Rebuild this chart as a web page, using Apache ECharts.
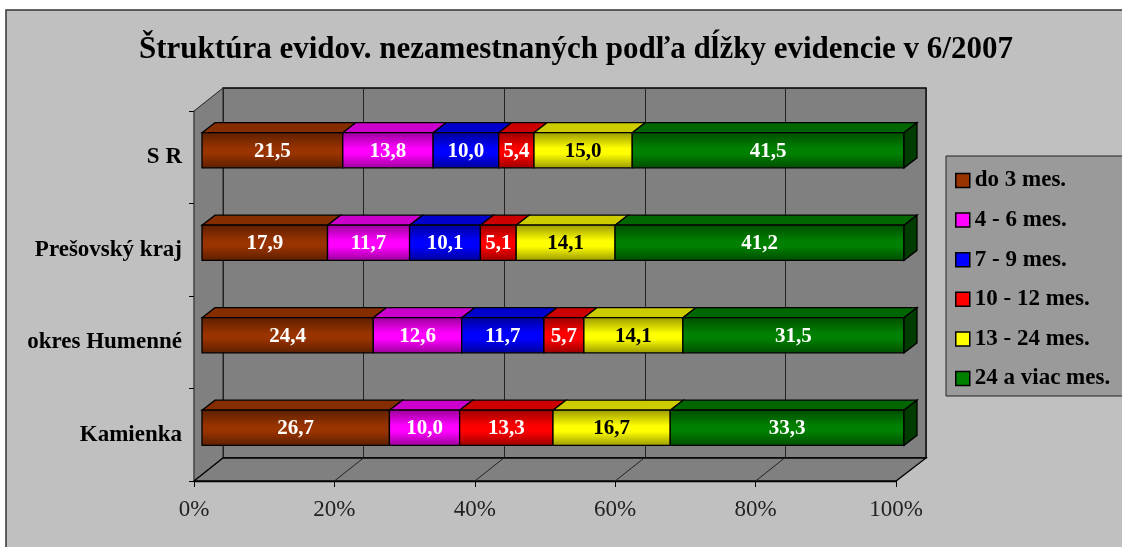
<!DOCTYPE html>
<html>
<head>
<meta charset="utf-8">
<script src="https://cdn.jsdelivr.net/npm/echarts@6/dist/echarts.min.js"></script>
<style>
  html, body { margin: 0; padding: 0; background: #fff; }
  #chart { width: 1122px; height: 547px; }
</style>
</head>
<body>
<div id="chart"></div>
<script>
// data
var categories = ["S R", "Prešovský kraj", "okres Humenné", "Kamienka"];
var seriesNames = ["do 3 mes.", "4 - 6 mes.", "7 - 9 mes.", "10 - 12 mes.", "13 - 24 mes.", "24 a viac mes."];
var do3 = [21.5, 17.9, 24.4, 26.7];
var m4to6 = [13.8, 11.7, 12.6, 10.0];
var m7to9 = [10.0, 10.1, 11.7, 0];
var m10to12 = [5.4, 5.1, 5.7, 13.3];
var m13to24 = [15.0, 14.1, 14.1, 16.7];
var m24plus = [41.5, 41.2, 31.5, 33.3];
var tickValues = [0, 20, 40, 60, 80, 100];

var seriesValues = [do3, m4to6, m7to9, m10to12, m13to24, m24plus];

// colours: front middle, front edge, top face, side face, label
var palette = [
  { base: "#993300", edge: "#5c1f00", top: "#862d00", side: "#5c1f00", text: "#fff" },
  { base: "#ff00ff", edge: "#990099", top: "#cc00cc", side: "#990099", text: "#fff" },
  { base: "#0000ff", edge: "#000099", top: "#0000cc", side: "#000099", text: "#fff" },
  { base: "#ff0000", edge: "#990000", top: "#cc0000", side: "#990000", text: "#fff" },
  { base: "#ffff00", edge: "#999900", top: "#cccc00", side: "#999900", text: "#000" },
  { base: "#008000", edge: "#004d00", top: "#006600", side: "#003c00", text: "#fff" }
];

var DX = 13, DY = 10; // bar depth
var serif = "'Liberation Serif', 'Times New Roman', serif";

function renderBar(params, api) {
  var v = api.value(3);
  if (!v) return;
  var c = palette[seriesNames.indexOf(params.seriesName)];
  var p0 = api.coord([api.value(0), api.value(2)]);
  var p1 = api.coord([api.value(1), api.value(2)]);
  var h = api.size([0, 1])[1] * 0.38;
  var x0 = p0[0], x1 = p1[0], yt = p0[1] - h / 2, yb = p0[1] + h / 2;
  var stroke = { stroke: "#000", lineWidth: 1.3 };
  var children = [
    {
      type: "polygon",
      shape: { points: [[x0, yt], [x0 + DX, yt - DY], [x1 + DX, yt - DY], [x1, yt]] },
      style: Object.assign({ fill: c.top }, stroke)
    },
    {
      type: "rect",
      shape: { x: x0, y: yt, width: x1 - x0, height: h },
      style: Object.assign({
        fill: new echarts.graphic.LinearGradient(0, 0, 0, 1, [
          { offset: 0, color: c.edge },
          { offset: 0.45, color: c.base },
          { offset: 0.6, color: c.base },
          { offset: 1, color: c.edge }
        ])
      }, stroke)
    },
    {
      type: "text",
      style: {
        text: v.toFixed(1).replace(".", ","),
        x: (x0 + x1) / 2, y: (yt + yb) / 2 + 1,
        align: "center", verticalAlign: "middle",
        fill: c.text, font: "bold 21px " + serif
      }
    }
  ];
  if (api.value(1) >= 99.9) {
    children.push({
      type: "polygon",
      shape: { points: [[x1, yt], [x1 + DX, yt - DY], [x1 + DX, yb - DY], [x1, yb]] },
      style: Object.assign({ fill: c.side }, stroke)
    });
  }
  return { type: "group", children: children };
}

// floor diagonal lines
function renderFloorLine(params, api) {
  var p = api.coord([api.value(0), categories.length - 1]);
  var y = p[1] + api.size([0, 1])[1] / 2;
  return {
    type: "line",
    shape: { x1: p[0], y1: y, x2: p[0] + 29, y2: y - 23 },
    style: { stroke: "#222", lineWidth: 1 }
  };
}

// 100% stacking: each row is scaled to its own total
var totals = categories.map(function (c, i) {
  return seriesValues.reduce(function (s, arr) { return s + arr[i]; }, 0);
});
var cum = categories.map(function () { return 0; });
var barSeries = seriesNames.map(function (name, s) {
  var data = categories.map(function (c, i) {
    var v = seriesValues[s][i];
    var pct = v / totals[i] * 100;
    var item = [cum[i], cum[i] + pct, i, v];
    cum[i] += pct;
    return item;
  });
  return {
    name: name,
    type: "custom",
    xAxisIndex: 2,
    yAxisIndex: 2,
    renderItem: renderBar,
    itemStyle: { color: palette[s].base, borderColor: "#000", borderWidth: 1 },
    encode: { x: [0, 1], y: 2 },
    data: data,
    z: 3
  };
});

var chart = echarts.init(document.getElementById("chart"));
chart.setOption({
  animation: false,
  title: {
    text: "Štruktúra evidov. nezamestnaných podľa dĺžky evidencie v 6/2007",
    left: 571,
    textAlign: "center",
    top: 29,
    textStyle: { fontFamily: serif, fontWeight: "bold", fontSize: 31, color: "#000" }
  },
  graphic: [
    { type: "rect", z: -10, shape: { x: 6, y: 10, width: 1130, height: 545 },
      style: { fill: "#c0c0c0", stroke: "#333", lineWidth: 1.5 } },
    // left wall
    { type: "polygon", z: 1, shape: { points: [[194, 111], [223, 88], [223, 458], [194, 481]] },
      style: { fill: "#808080", stroke: "#222", lineWidth: 1 } },
    // floor
    { type: "polygon", z: 1, shape: { points: [[194, 481], [223, 458], [926, 458], [896, 481]] },
      style: { fill: "#808080", stroke: "#000", lineWidth: 1.3 } }
  ],
  legend: {
    orient: "vertical",
    left: 946,
    top: 156,
    data: seriesNames,
    icon: "rect",
    itemWidth: 14,
    itemHeight: 14,
    itemGap: 16.6,
    itemTextGap: 8,
    padding: [13, 14, 6, 9],
    backgroundColor: "#9a9a9a",
    borderColor: "#222",
    borderWidth: 1,
    textStyle: { fontFamily: serif, fontWeight: "bold", fontSize: 23, color: "#000" },
    itemStyle: { borderColor: "#000", borderWidth: 1.5 }
  },
  grid: [
    // back wall
    { left: 223, top: 88, width: 703, height: 370, show: true, backgroundColor: "#808080",
      borderColor: "#000", borderWidth: 1.3 },
    // front plane (axes)
    { left: 194, top: 111, width: 702, height: 370 },
    // bars
    { left: 202, top: 104, width: 702, height: 370 }
  ],
  xAxis: [
    { gridIndex: 0, type: "value", min: 0, max: 100, interval: 20,
      axisLine: { show: false }, axisTick: { show: false }, axisLabel: { show: false },
      splitLine: { show: true, lineStyle: { color: "#222", width: 1 } } },
    { gridIndex: 1, type: "value", min: 0, max: 100, interval: 20, position: "bottom",
      axisLine: { show: true, lineStyle: { color: "#000", width: 1.3 } },
      axisTick: { show: true, length: 6, lineStyle: { color: "#000" } },
      axisLabel: { margin: 17, formatter: "{value}%", fontFamily: serif, fontSize: 23, color: "#222" },
      splitLine: { show: false } },
    { gridIndex: 2, type: "value", min: 0, max: 100, show: false, splitLine: { show: false } }
  ],
  yAxis: [
    { gridIndex: 0, type: "category", data: categories, inverse: true, show: false },
    { gridIndex: 1, type: "category", data: categories, inverse: true,
      axisLine: { show: true, lineStyle: { color: "#000", width: 1.3 } },
      axisTick: { show: true, length: 5, lineStyle: { color: "#000" } },
      axisLabel: { margin: 12, padding: [8, 0, 0, 0], fontFamily: serif, fontWeight: "bold", fontSize: 23, color: "#000" } },
    { gridIndex: 2, type: "category", data: categories, inverse: true, show: false }
  ],
  series: [
    {
      type: "custom",
      xAxisIndex: 1,
      yAxisIndex: 1,
      renderItem: renderFloorLine,
      encode: { x: 0 },
      data: tickValues.slice(1, -1).map(function (t) { return [t]; }),
      silent: true,
      z: 2
    }
  ].concat(barSeries)
});
</script>
</body>
</html>
